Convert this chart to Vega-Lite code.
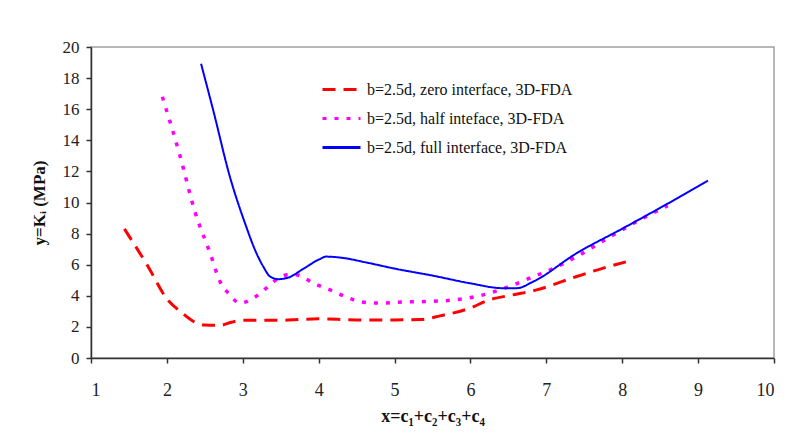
{
  "$schema": "https://vega.github.io/schema/vega-lite/v6.json",
  "width": 683,
  "height": 311,
  "autosize": "none",
  "padding": {"left": 91, "top": 47, "right": 17, "bottom": 78},
  "background": "white",
  "config": {
    "view": {"stroke": "#a0a0a0", "strokeWidth": 1.5},
    "font": "Liberation Serif",
    "axis": {
      "grid": false,
      "domainColor": "#333333",
      "domainWidth": 1.5,
      "tickColor": "#333333",
      "tickWidth": 1.5,
      "tickSize": 5,
      "labelColor": "#222222",
      "labelFont": "Liberation Serif",
      "titleFont": "Liberation Serif",
      "titleColor": "#111111",
      "titleFontWeight": "bold"
    },
    "legend": {"labelFont": "Liberation Serif"}
  },
  "data": {
    "values": [
      {"s": "zero", "x": 1.44, "y": 8.3},
      {"s": "zero", "x": 1.75, "y": 5.9},
      {"s": "zero", "x": 2.0, "y": 3.8},
      {"s": "zero", "x": 2.2, "y": 2.9},
      {"s": "zero", "x": 2.35, "y": 2.35},
      {"s": "zero", "x": 2.5, "y": 2.12},
      {"s": "zero", "x": 2.7, "y": 2.1},
      {"s": "zero", "x": 2.85, "y": 2.3},
      {"s": "zero", "x": 3.0, "y": 2.42},
      {"s": "zero", "x": 3.5, "y": 2.43},
      {"s": "zero", "x": 4.0, "y": 2.52},
      {"s": "zero", "x": 4.5, "y": 2.45},
      {"s": "zero", "x": 5.0, "y": 2.45},
      {"s": "zero", "x": 5.35, "y": 2.48},
      {"s": "zero", "x": 5.6, "y": 2.71},
      {"s": "zero", "x": 5.99, "y": 3.2},
      {"s": "zero", "x": 6.25, "y": 3.74},
      {"s": "zero", "x": 6.56, "y": 4.06},
      {"s": "zero", "x": 6.87, "y": 4.38},
      {"s": "zero", "x": 7.4, "y": 5.24},
      {"s": "zero", "x": 7.75, "y": 5.78},
      {"s": "zero", "x": 8.1, "y": 6.25},
      {"s": "half", "x": 1.94, "y": 16.8},
      {"s": "half", "x": 2.17, "y": 13.05},
      {"s": "half", "x": 2.37, "y": 9.4},
      {"s": "half", "x": 2.57, "y": 6.74},
      {"s": "half", "x": 2.7, "y": 4.92},
      {"s": "half", "x": 2.83, "y": 4.06},
      {"s": "half", "x": 2.96, "y": 3.53},
      {"s": "half", "x": 3.14, "y": 3.85},
      {"s": "half", "x": 3.31, "y": 4.49},
      {"s": "half", "x": 3.44, "y": 5.03},
      {"s": "half", "x": 3.6, "y": 5.35},
      {"s": "half", "x": 3.7, "y": 5.35},
      {"s": "half", "x": 3.93, "y": 4.81},
      {"s": "half", "x": 4.15, "y": 4.38},
      {"s": "half", "x": 4.37, "y": 3.91},
      {"s": "half", "x": 4.54, "y": 3.63},
      {"s": "half", "x": 4.8, "y": 3.53},
      {"s": "half", "x": 5.1, "y": 3.6},
      {"s": "half", "x": 5.4, "y": 3.63},
      {"s": "half", "x": 5.82, "y": 3.75},
      {"s": "half", "x": 6.17, "y": 4.06},
      {"s": "half", "x": 6.45, "y": 4.49},
      {"s": "half", "x": 6.78, "y": 5.13},
      {"s": "half", "x": 7.05, "y": 5.67},
      {"s": "half", "x": 7.4, "y": 6.52},
      {"s": "half", "x": 7.84, "y": 7.8},
      {"s": "half", "x": 8.19, "y": 8.77},
      {"s": "half", "x": 8.6, "y": 9.8},
      {"s": "full", "x": 2.45, "y": 18.93},
      {"s": "full", "x": 2.61, "y": 15.94},
      {"s": "full", "x": 2.83, "y": 11.66},
      {"s": "full", "x": 3.03, "y": 8.66},
      {"s": "full", "x": 3.18, "y": 6.74},
      {"s": "full", "x": 3.27, "y": 5.88},
      {"s": "full", "x": 3.36, "y": 5.24},
      {"s": "full", "x": 3.47, "y": 5.07},
      {"s": "full", "x": 3.6, "y": 5.17},
      {"s": "full", "x": 3.79, "y": 5.71},
      {"s": "full", "x": 4.01, "y": 6.35},
      {"s": "full", "x": 4.1, "y": 6.52},
      {"s": "full", "x": 4.3, "y": 6.45},
      {"s": "full", "x": 4.63, "y": 6.14},
      {"s": "full", "x": 5.0, "y": 5.75},
      {"s": "full", "x": 5.5, "y": 5.3},
      {"s": "full", "x": 5.99, "y": 4.81},
      {"s": "full", "x": 6.43, "y": 4.49},
      {"s": "full", "x": 6.61, "y": 4.49},
      {"s": "full", "x": 6.83, "y": 4.92},
      {"s": "full", "x": 7.4, "y": 6.74},
      {"s": "full", "x": 8.01, "y": 8.34},
      {"s": "full", "x": 8.45, "y": 9.52},
      {"s": "full", "x": 9.13, "y": 11.4}
    ]
  },
  "transform": [
    {"calculate": "datum.s === 'zero' ? 'b=2.5d, zero interface, 3D-FDA' : datum.s === 'half' ? 'b=2.5d, half inteface, 3D-FDA' : 'b=2.5d, full interface, 3D-FDA'", "as": "series"}
  ],
  "encoding": {
    "x": {
      "field": "x",
      "type": "quantitative",
      "scale": {"domain": [1, 10], "nice": false, "zero": false},
      "axis": {
        "values": [1, 2, 3, 4, 5, 6, 7, 8, 9, 10],
        "labelFont": "Liberation Serif",
        "labelFontSize": 18,
        "labelPadding": 18,
        "title": "x=c₁+c₂+c₃+c₄",
        "titleFont": "Liberation Serif",
        "titleFontSize": 18,
        "titlePadding": 8
      }
    },
    "y": {
      "field": "y",
      "type": "quantitative",
      "scale": {"domain": [0, 20], "nice": false},
      "axis": {
        "values": [0, 2, 4, 6, 8, 10, 12, 14, 16, 18, 20],
        "labelFont": "Liberation Serif",
        "labelFontSize": 17,
        "labelPadding": 7,
        "title": "y=Kᵢ (MPa)",
        "titleFont": "Liberation Serif",
        "titleFontSize": 17,
        "titlePadding": 14
      }
    },
    "color": {
      "field": "series",
      "type": "nominal",
      "scale": {
        "domain": ["b=2.5d, zero interface, 3D-FDA", "b=2.5d, half inteface, 3D-FDA", "b=2.5d, full interface, 3D-FDA"],
        "range": ["#ff0000", "#ff00ff", "#0000ff"]
      },
      "legend": {
        "title": null,
        "orient": "none",
        "legendX": 230,
        "legendY": 22,
        "padding": 0,
        "symbolType": "stroke",
        "symbolSize": 1444,
        "symbolStrokeWidth": 3,
        "labelFont": "Liberation Serif",
        "labelFontSize": 16,
        "labelColor": "#111111",
        "labelOffset": 5,
        "labelLimit": 400,
        "rowPadding": 0
      }
    },
    "strokeDash": {
      "field": "series",
      "type": "nominal",
      "scale": {
        "domain": ["b=2.5d, zero interface, 3D-FDA", "b=2.5d, half inteface, 3D-FDA", "b=2.5d, full interface, 3D-FDA"],
        "range": [[13, 8], [4, 8], [1, 0]]
      },
      "legend": null
    }
  },
  "layer": [
    {
      "transform": [{"filter": "datum.s === 'zero'"}],
      "mark": {"type": "line", "interpolate": "monotone", "strokeCap": "butt", "strokeWidth": 3}
    },
    {
      "transform": [{"filter": "datum.s === 'half'"}],
      "mark": {"type": "line", "interpolate": "monotone", "strokeCap": "butt", "strokeWidth": 3.5}
    },
    {
      "transform": [{"filter": "datum.s === 'full'"}],
      "mark": {"type": "line", "interpolate": "monotone", "strokeCap": "butt", "strokeWidth": 2}
    }
  ]
}
